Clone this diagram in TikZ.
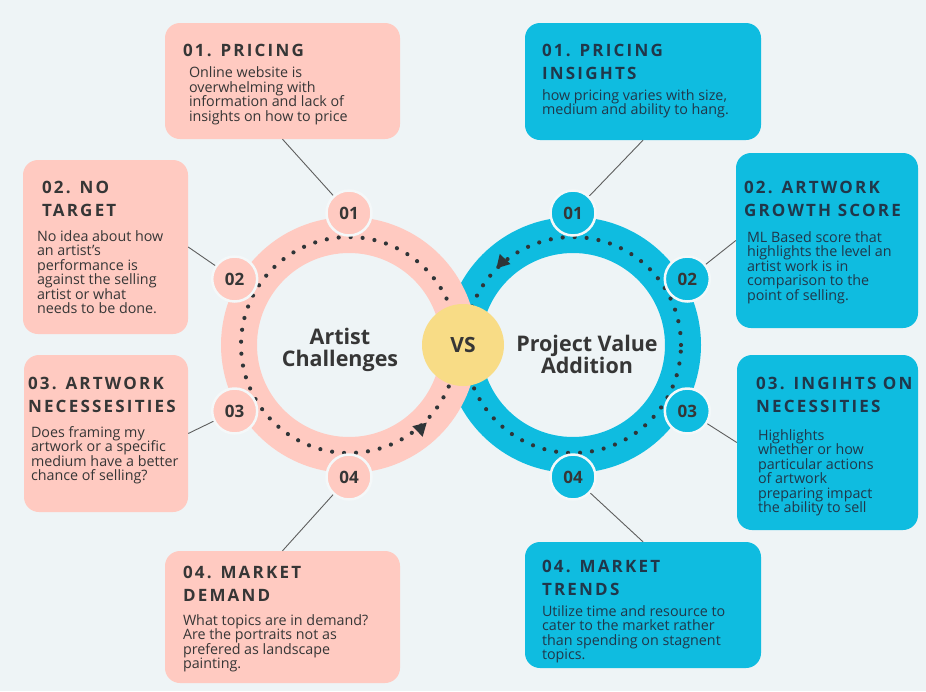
\documentclass[tikz,border=0pt]{standalone}
\usepackage{fontspec}
\setmainfont{Open Sans}
\newfontfamily\cardtitlefont[LetterSpace=13]{Open Sans}
\usetikzlibrary{calc, positioning, shapes.geometric}
\definecolor{bgcol}{HTML}{EEF4F6}
\definecolor{pinkfill}{HTML}{FFCAC1}
\definecolor{bluefill}{HTML}{0FBCE0}
\definecolor{vsfill}{HTML}{F8DC86}
\definecolor{textdark}{HTML}{363636}
\definecolor{bluetext}{HTML}{20374A}
\definecolor{dotcol}{HTML}{2F3538}
\definecolor{linecol}{HTML}{5E5E5E}
\definecolor{badgerim}{HTML}{F4F8F9}
\def\ringradius{110pt}
\def\ringwidth{36pt}
\def\dotradius{108pt}
\def\badgedist{132}
\def\cardradius{15pt}
\tikzset{
% Cards
pink_card/.style={
	fill=pinkfill, rounded corners=\cardradius, inner sep=0pt,
},
blue_card/.style={
	fill=bluefill, rounded corners=\cardradius, inner sep=0pt,
},
% Card title
card_title/.style={
	font=\cardtitlefont\bfseries\fontsize{17}{23.5}\selectfont,
	align=left, inner sep=0pt, text=textdark,
},
% Card body
card_body/.style={
	font=\fontsize{14.3}{14.5}\selectfont,
	align=left, inner sep=0pt, text=textdark,
},
% Badges
badge/.style={
	circle, draw=badgerim, line width=2.5pt, minimum size=45pt, inner sep=0pt,
	font=\bfseries\fontsize{17}{17}\selectfont, text=textdark,
},
pink_badge/.style={badge, fill=pinkfill},
blue_badge/.style={badge, fill=bluefill},
% Rings
ring/.style={
	line width=\ringwidth,
},
ring_dots/.style={
	dotcol, line width=4.2pt, line cap=round, dash pattern=on 0pt off 12pt,
},
ring_arrow/.style={
	regular polygon, regular polygon sides=3, fill=dotcol,
	minimum size=17pt, inner sep=0pt,
},
% Ring labels
ring_label/.style={
	font=\bfseries\fontsize{21.5}{22}\selectfont, align=center, text=textdark,
},
% Connection
connection/.style={
	linecol, line width=0.9pt,
},
}
\begin{document}
\begin{tikzpicture}[x=1pt, y=-1pt]
		% Background
		\fill[bgcol] (0,0) rectangle (926,691);

		% Rings
		\coordinate (pk_center) at (349,345);
		\coordinate (bl_center) at (573,345);

		\draw[bluefill, ring] (bl_center) circle[radius=\ringradius];
		\draw[ring_dots] (bl_center) circle[radius=\dotradius];
		\draw[pinkfill, ring] (pk_center) circle[radius=\ringradius];
		\draw[ring_dots] (pk_center) circle[radius=\dotradius];

		\node[ring_arrow, rotate=-166] (pk_arrow) at ($(pk_center)+(49.4:110)$) {};
		\node[ring_arrow, rotate=17] (bl_arrow) at ($(bl_center)+(-130.5:109)$) {};

		\node[circle, fill=vsfill, minimum size=82pt, inner sep=0pt,
			  font=\bfseries\fontsize{21}{21}\selectfont, text=textdark]
			 (vs) at (463,345) {VS};

		\node[ring_label] (pk_label) at (340,350) {Artist\\Challenges};
		\node[ring_label] (bl_label) at (587,354) {Project Value\\Addition};

		% Badges
		\node[pink_badge] (pk_badge1) at ($(pk_center)+(-90:\badgedist)$) {01};
		\node[pink_badge] (pk_badge2) at ($(pk_center)+(-150:\badgedist)$) {02};
		\node[pink_badge] (pk_badge3) at ($(pk_center)+(150:\badgedist)$) {03};
		\node[pink_badge] (pk_badge4) at ($(pk_center)+(90:\badgedist)$) {04};

		\node[blue_badge] (bl_badge1) at ($(bl_center)+(-90:\badgedist)$) {01};
		\node[blue_badge] (bl_badge2) at ($(bl_center)+(-30:\badgedist)$) {02};
		\node[blue_badge] (bl_badge3) at ($(bl_center)+(30:\badgedist)$) {03};
		\node[blue_badge] (bl_badge4) at ($(bl_center)+(90:\badgedist)$) {04};

		% Cards
		\node[pink_card, minimum width=235pt, minimum height=116pt] (pk_card1) at (282.5,81) {};
		\node[pink_card, minimum width=165pt, minimum height=174pt] (pk_card2) at (105.5,247) {};
		\node[pink_card, minimum width=164pt, minimum height=157pt] (pk_card3) at (106,433.5) {};
		\node[pink_card, minimum width=235pt, minimum height=132pt] (pk_card4) at (282.5,617) {};

		\node[blue_card, minimum width=236pt, minimum height=117pt] (bl_card1) at (643,81.5) {};
		\node[blue_card, minimum width=182pt, minimum height=175pt] (bl_card2) at (827,240.5) {};
		\node[blue_card, minimum width=181pt, minimum height=175pt] (bl_card3) at (827.5,442.5) {};
		\node[blue_card, minimum width=236pt, minimum height=126pt] (bl_card4) at (643,605) {};

		% Card texts
		\node[card_title, below right=21pt and 18pt of pk_card1.north west] (pk_title1) {01. PRICING};
		\node[card_body, below right=10pt and 6pt of pk_title1.south west] (pk_body1)
			 {Online website is\\overwhelming with\\information and lack of\\insights on how to price};

		\node[card_title, below right=21pt and 19pt of pk_card2.north west] (pk_title2) {02. NO\\TARGET};
		\node[card_body, below right=13pt and -5pt of pk_title2.south west] (pk_body2)
			 {No idea about how\\an artist’s\\performance is\\against the selling\\artist or what\\needs to be done.};

		\node[card_title, below right=22pt and 4pt of pk_card3.north west] (pk_title3) {03. ARTWORK\\NECESSESITIES};
		\node[card_body, below right=13pt and 3pt of pk_title3.south west] (pk_body3)
			 {Does framing my\\artwork or a specific\\medium have a better\\chance of selling?};

		\node[card_title, below right=15pt and 18pt of pk_card4.north west] (pk_title4) {04. MARKET\\DEMAND};
		\node[card_body, below right=12pt and 0pt of pk_title4.south west] (pk_body4)
			 {What topics are in demand?\\Are the portraits not as\\prefered as landscape\\painting.};

		\node[card_title, text=bluetext, below right=21pt and 17pt of bl_card1.north west] (bl_title1) {01. PRICING\\INSIGHTS};
		\node[card_body, text=bluetext, below right=9pt and 0pt of bl_title1.south west] (bl_body1)
			 {how pricing varies with size,\\medium and ability to hang.};

		\node[card_title, text=bluetext, below right=28pt and 8pt of bl_card2.north west] (bl_title2) {02. ARTWORK\\GROWTH SCORE};
		\node[card_body, text=bluetext, below right=14pt and 3pt of bl_title2.south west] (bl_body2)
			 {ML Based score that\\highlights the level an\\artist work is in\\comparison to the\\point of selling.};

		\node[card_title, text=bluetext, below right=22pt and 19pt of bl_card3.north west] (bl_title3) {03. INGIHTS ON\\NECESSITIES};
		\node[card_body, text=bluetext, below right=16pt and 2pt of bl_title3.south west] (bl_body3)
			 {Highlights\\whether or how\\particular actions\\of artwork\\preparing impact\\the ability to sell};

		\node[card_title, text=bluetext, below right=18pt and 17pt of bl_card4.north west] (bl_title4) {04. MARKET\\TRENDS};
		\node[card_body, text=bluetext, below right=9pt and 0pt of bl_title4.south west] (bl_body4)
			 {Utilize time and resource to\\cater to the market rather\\than spending on stagnent\\topics.};

		% Connections
		\draw[connection] (pk_card1.south) -- (pk_badge1);
		\draw[connection] (pk_card2.east) -- (pk_badge2);
		\draw[connection] (pk_card3.east) -- (pk_badge3);
		\draw[connection] (pk_card4.north) -- (pk_badge4);

		\draw[connection] (bl_card1.south) -- (bl_badge1);
		\draw[connection] (bl_card2.west) -- (bl_badge2);
		\draw[connection] (bl_card3.west) -- (bl_badge3);
		\draw[connection] (bl_card4.north) -- (bl_badge4);
	\end{tikzpicture}
\end{document}
